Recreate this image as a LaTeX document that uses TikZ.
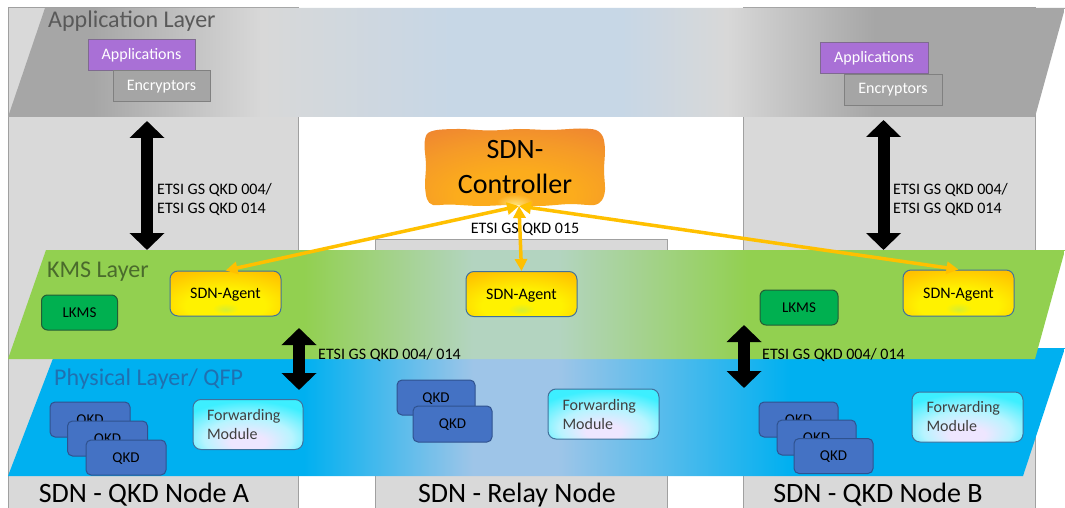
\documentclass[tikz,border=0pt]{standalone}
\usepackage{fontspec}
\setmainfont{Carlito}
\usetikzlibrary{arrows.meta}

% palette
\definecolor{colfill}{HTML}{D9D9D9}
\definecolor{colline}{HTML}{A0A0A0}
\definecolor{appgrey}{HTML}{A6A6A6}
\definecolor{applight}{HTML}{D8D8D8}
\definecolor{appblue}{HTML}{C7D7E6}
\definecolor{kmsgreen}{HTML}{92D050}
\definecolor{kmslight}{HTML}{B3D4C0}
\definecolor{phyblue}{HTML}{00B0F0}
\definecolor{phylight}{HTML}{9EC5E8}
\definecolor{apptext}{HTML}{595959}
\definecolor{kmstext}{HTML}{4A6B2C}
\definecolor{phytext}{HTML}{2070B0}
\definecolor{apppurple}{HTML}{A970D6}
\definecolor{appedge}{HTML}{7F6A90}
\definecolor{encgrey}{HTML}{A5A5A5}
\definecolor{encedge}{HTML}{808080}
\definecolor{lkmsgreen}{HTML}{00B050}
\definecolor{lkmsedge}{HTML}{235D35}
\definecolor{qkdblue}{HTML}{4472C4}
\definecolor{qkdedge}{HTML}{2F528F}
\definecolor{boxedge}{HTML}{41719C}
\definecolor{agentorg}{HTML}{FFC000}
\definecolor{agentyel}{HTML}{FFF200}
\definecolor{agenthi}{HTML}{D6EE30}
\definecolor{fwdcyan}{HTML}{3DEFFF}
\definecolor{fwdmid}{HTML}{B8F4FF}
\definecolor{fwdhi}{HTML}{EEE6FF}
\definecolor{ctrlout}{HTML}{EE8232}
\definecolor{ctrlmid}{HTML}{FCAC1C}
\definecolor{ctrlmix}{HTML}{F59A28}
\definecolor{ctrlhi}{HTML}{FFE37A}
\definecolor{linkyel}{HTML}{FFC000}
\definecolor{fwdtext}{HTML}{404040}

% layer gradients (left to right)
\pgfdeclarehorizontalshading{appshade}{100bp}{color(0bp)=(appgrey); color(29bp)=(appgrey); color(37bp)=(applight); color(46bp)=(appblue); color(54bp)=(appblue); color(59bp)=(applight); color(66bp)=(appgrey); color(100bp)=(appgrey)}
\pgfdeclarehorizontalshading{kmsshade}{100bp}{color(0bp)=(kmsgreen); color(39bp)=(kmsgreen); color(47bp)=(kmslight); color(51bp)=(kmslight); color(60bp)=(kmsgreen); color(100bp)=(kmsgreen)}
\pgfdeclarehorizontalshading{physhade}{100bp}{color(0bp)=(phyblue); color(39bp)=(phyblue); color(47bp)=(phylight); color(51bp)=(phylight); color(62bp)=(phyblue); color(100bp)=(phyblue)}

% box gradients, brightest near the bottom centre
\pgfdeclareradialshading{ctrlshade}{\pgfpoint{0bp}{-24bp}}{color(0bp)=(ctrlhi); color(5bp)=(ctrlmid); color(16bp)=(ctrlmid); color(30bp)=(ctrlmix); color(44bp)=(ctrlout); color(70bp)=(ctrlout)}
\pgfdeclareradialshading{agentshade}{\pgfpoint{0bp}{-18bp}}{color(0bp)=(agenthi); color(6bp)=(agentyel); color(18bp)=(agentyel); color(38bp)=(agentorg); color(70bp)=(agentorg)}
\pgfdeclareradialshading{fwdshade}{\pgfpoint{0bp}{-20bp}}{color(0bp)=(fwdhi); color(8bp)=(fwdhi); color(20bp)=(fwdmid); color(34bp)=(fwdcyan); color(70bp)=(fwdcyan)}

\tikzset{
  column/.style={fill=colfill, draw=colline, line width=1pt},
  smalltxt/.style={font=\fontsize{16}{19}\selectfont},
  layertxt/.style={font=\fontsize{24}{28}\selectfont, anchor=base west, inner sep=0pt},
  nodetxt/.style={font=\fontsize{28}{32}\selectfont, anchor=base, inner sep=0pt},
  appbox/.style={smalltxt, text=white, draw=appedge, fill=apppurple, line width=1pt, minimum width=107pt, minimum height=31pt, inner sep=0pt},
  encbox/.style={smalltxt, text=white, draw=encedge, fill=encgrey, line width=1pt, minimum width=97pt, minimum height=31pt, inner sep=0pt},
  agent/.style={smalltxt, draw=boxedge, line width=1pt, rounded corners=8pt, shading=agentshade, minimum width=111pt, minimum height=45pt, inner sep=0pt, text depth=0pt},
  lkms/.style={font=\fontsize{15}{18}\selectfont, draw=lkmsedge, fill=lkmsgreen, line width=1pt, rounded corners=6pt, minimum width=76pt, minimum height=35pt, inner sep=0pt, text depth=0pt},
  qkd/.style={font=\fontsize{15}{18}\selectfont, draw=qkdedge, fill=qkdblue, line width=1pt, rounded corners=5pt, minimum width=79pt, minimum height=35pt, inner sep=0pt, text depth=0pt},
  fwd/.style={smalltxt, text=fwdtext, draw=boxedge, line width=1pt, rounded corners=8pt, shading=fwdshade, minimum width=111pt, minimum height=50pt, inner sep=0pt, text width=82pt, align=left},
  etsi/.style={smalltxt, inner sep=0pt, align=left},
  barrow/.style={line width=12pt, {Triangle[width=34pt,length=17pt]}-{Triangle[width=34pt,length=17pt]}},
  yarrow/.style={draw=linkyel, line width=3.5pt, {Triangle[width=12pt,length=12pt]}-{Triangle[width=12pt,length=12pt]}}
}

\begin{document}
\begin{tikzpicture}[x=1pt,y=-1pt]
\useasboundingbox[fill=white] (0,0) rectangle (1065,508);

% node columns
\draw[column] (8,8) rectangle (298,520);
\draw[column] (375,239) rectangle (667,520);
\draw[column] (743,8) rectangle (1035,520);

% layers
\shade[shading=appshade] (45,8) -- (1065,8) -- (1035,117) -- (8,117) -- cycle;
\shade[shading=physhade] (57,348) -- (1065,348) -- (1023,476) -- (8,476) -- cycle;
\shade[shading=kmsshade] (46,250) -- (1065,250) -- (1035,359) -- (8,359) -- cycle;

\node[layertxt, text=apptext] (applbl) at (48,28) {Application Layer};
\node[layertxt, text=kmstext] (kmslbl) at (47,277) {KMS Layer};
\node[layertxt, text=phytext] (phylbl) at (54,385) {Physical Layer/ QFP};

% application layer boxes
\node[appbox] (appsA) at (141.5,55.5) {Applications};
\node[encbox] (encA) at (161.5,86.5) {Encryptors};
\node[appbox, minimum width=108pt] (appsB) at (874,58.5) {Applications};
\node[encbox, minimum width=98pt] (encB) at (893,90) {Encryptors};

% SDN controller, a hand-drawn looking box
\shade[shading=ctrlshade] plot[smooth cycle, tension=0.5] coordinates {
  (437,130) (460,129) (490,130.5) (520,129) (550,130) (580,128.5) (596,130)
  (603,137) (605,150) (604,170) (605,190) (602,200)
  (594,205) (570,204) (540,206) (510,205) (480,206) (450,204.5) (433,205)
  (427,199) (425,185) (426,165) (424.5,145) (427,134)};
\node[font=\fontsize{28}{35}\selectfont, align=center, inner sep=0pt] (ctrl) at (515,167) {SDN-\\Controller};
\coordinate (ctrlpt) at (519,206);

% KMS layer boxes
\node[agent] (agentA) at (225.5,293.5) {SDN-Agent};
\node[agent] (agentM) at (521.5,294) {SDN-Agent};
\node[agent, minimum height=46pt] (agentB) at (958.5,293) {SDN-Agent};
\node[lkms] (lkmsA) at (79.5,312.5) {LKMS};
\node[lkms, minimum width=78pt] (lkmsB) at (799,307.5) {LKMS};

% physical layer boxes
\node[qkd, minimum width=80pt] (qkdA1) at (90,419.5) {QKD};
\node[qkd, minimum width=80pt] (qkdA2) at (107.5,438.5) {QKD};
\node[qkd, minimum width=80pt] (qkdA3) at (126,457.5) {QKD};
\node[qkd, minimum width=78pt] (qkdM1) at (436,397.5) {QKD};
\node[qkd, minimum height=36pt] (qkdM2) at (452.5,424) {QKD};
\node[qkd] (qkdB1) at (798.5,419.5) {QKD};
\node[qkd] (qkdB2) at (816.5,437.5) {QKD};
\node[qkd] (qkdB3) at (833.5,456) {QKD};
\node[fwd, minimum width=110pt] (fwdA) at (248,424.5) {Forwarding\\Module};
\node[fwd] (fwdM) at (603.5,414) {Forwarding\\Module};
\node[fwd] (fwdB) at (967.5,417) {Forwarding\\Module};

% interfaces between layers
\coordinate (appA) at (147,121);
\coordinate (kmsA) at (147,250);
\coordinate (appB) at (883.5,120);
\coordinate (kmsB) at (883.5,250);
\coordinate (kmsA2) at (299,328);
\coordinate (phyA2) at (299,390);
\coordinate (kmsB2) at (744,325);
\coordinate (phyB2) at (744,388);
\draw[barrow] (appA) -- (kmsA);
\draw[barrow] (appB) -- (kmsB);
\draw[barrow] (kmsA2) -- (phyA2);
\draw[barrow] (kmsB2) -- (phyB2);

\node[etsi, anchor=west] (lblA) at (157,199.5) {ETSI GS QKD 004/\\ETSI GS QKD 014};
\node[etsi, anchor=west] (lblB) at (893,199.5) {ETSI GS QKD 004/\\ETSI GS QKD 014};
\node[etsi, anchor=west] (lblA2) at (318,355) {ETSI GS QKD 004/ 014};
\node[etsi, anchor=west] (lblB2) at (762,355) {ETSI GS QKD 004/ 014};
\node[etsi] (lblM) at (525,229) {ETSI GS QKD 015};

% controller to agents
\draw[yarrow] (ctrlpt) -- (agentA.north);
\draw[yarrow] (ctrlpt) -- (agentM.north);
\draw[yarrow] (ctrlpt) -- (agentB.north);

% node captions
\node[nodetxt] (capA) at (144,502) {SDN - QKD Node A};
\node[nodetxt] (capM) at (517,502) {SDN - Relay Node};
\node[nodetxt] (capB) at (878,502) {SDN - QKD Node B};
\end{tikzpicture}
\end{document}
